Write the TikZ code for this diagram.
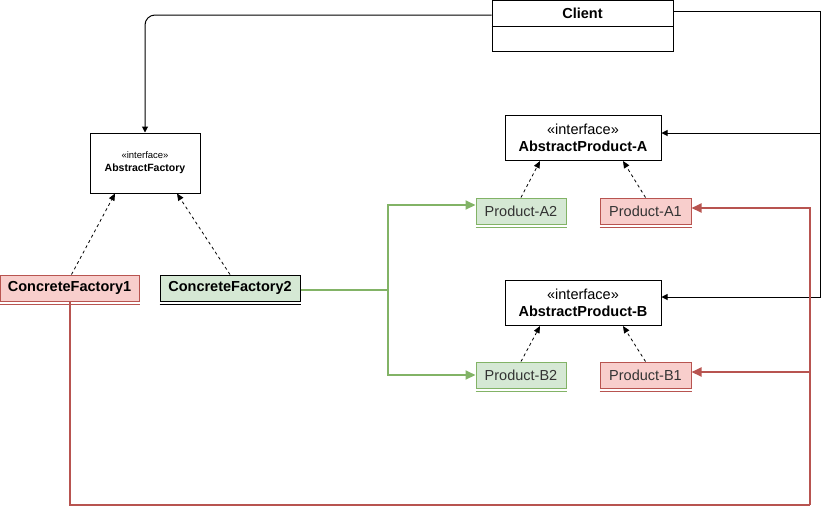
\documentclass[tikz,border=0pt]{standalone}
\usepackage{fontspec}
\setmainfont{Liberation Sans}
\usetikzlibrary{arrows.meta,calc}

\definecolor{gfill}{HTML}{D5E8D4}
\definecolor{gline}{HTML}{82B366}
\definecolor{rfill}{HTML}{F8CECC}
\definecolor{rline}{HTML}{B85450}
\definecolor{ptext}{HTML}{333333}

\tikzset{
  umlbox/.style={draw=black, line width=1pt, fill=white, inner sep=0pt, align=center},
  greenbox/.style={draw=gline, line width=1pt, fill=gfill, inner sep=0pt, text=ptext,
    minimum width=90pt, minimum height=26pt, font=\fontsize{14.5}{17}\selectfont},
  redbox/.style={draw=rline, line width=1pt, fill=rfill, inner sep=0pt, text=ptext,
    minimum width=91pt, minimum height=26pt, font=\fontsize{14.5}{17}\selectfont},
  conn/.style={draw=black, line width=1pt, -{Triangle[length=6pt,width=6pt]}},
  realize/.style={draw=black, line width=0.8pt, dash pattern=on 3pt off 3pt,
    -{Triangle[length=7pt,width=6pt]}},
  greenc/.style={draw=gline, line width=2pt},
  redc/.style={draw=rline, line width=2pt},
  garrow/.style={greenc, -{Triangle[length=10pt,width=9pt]}},
  rarrow/.style={redc, -{Triangle[length=10pt,width=9pt]}},
}

\begin{document}
\begin{tikzpicture}[x=1pt, y=-1pt]
\useasboundingbox (0,0) rectangle (829,515);

% Client class with an empty attribute compartment
\node[umlbox, minimum width=181pt, minimum height=51pt] (client) at (582.5,26) {};
\draw[line width=1pt] ($(client.north west)+(0,26)$) -- ($(client.north east)+(0,26)$);
\node[font=\bfseries\fontsize{14.5}{17}\selectfont] (clientname) at (582.5,13) {Client};

% Interfaces
\node[umlbox, minimum width=110pt, minimum height=60pt] (af) at (145,163)
  {{\fontsize{9.5}{11}\selectfont «interface»}\\[1pt]{\bfseries\fontsize{10.5}{12}\selectfont AbstractFactory}};
\node[umlbox, minimum width=156pt, minimum height=45pt, font=\fontsize{14.5}{17}\selectfont] (apa) at (583,138)
  {«interface»\\{\bfseries AbstractProduct-A}};
\node[umlbox, minimum width=156pt, minimum height=45pt, font=\fontsize{14.5}{17}\selectfont] (apb) at (583,303)
  {«interface»\\{\bfseries AbstractProduct-B}};

% Concrete factories
\node[redbox, minimum width=139pt, text=black, font=\bfseries\fontsize{14.5}{17}\selectfont] (cf1) at (69.5,288) {ConcreteFactory1};
\node[greenbox, draw=black, minimum width=140pt, text=black, font=\bfseries\fontsize{14.5}{17}\selectfont] (cf2) at (230,288) {ConcreteFactory2};
\draw[rline, line width=1pt] ([yshift=-3pt]cf1.south west) -- ([yshift=-3pt]cf1.south east);
\draw[black, line width=1pt] ([yshift=-3pt]cf2.south west) -- ([yshift=-3pt]cf2.south east);

% Concrete products
\node[greenbox] (pa2) at (521,211) {Product-A2};
\node[redbox]   (pa1) at (645.5,211) {Product-A1};
\node[greenbox] (pb2) at (521,375) {Product-B2};
\node[redbox]   (pb1) at (645.5,375) {Product-B1};
\foreach \n/\c in {pa2/gline, pa1/rline, pb2/gline, pb1/rline}
  \draw[\c, line width=1pt] ([yshift=-2.5pt]\n.south west) -- ([yshift=-2.5pt]\n.south east);

% Client uses the factory and the product interfaces
\coordinate (cl) at ($(client.north west)+(0,15)$);
\draw[conn, rounded corners=10pt] (cl) -| (af.north);
\coordinate (cr) at ($(client.north east)+(0,11)$);
\coordinate (bus) at (820,11);
\coordinate (apaIn) at ([yshift=5pt]apa.east);
\coordinate (apbIn) at ([yshift=6pt]apb.east);
\draw[conn] (cr) -- (bus) |- (apbIn);
\draw[conn] (bus |- apaIn) -- (apaIn);

% Realizations
\draw[realize] ([xshift=2pt]cf1.north) -- ([xshift=-30pt]af.south);
\draw[realize] (cf2.north) -- ([xshift=32pt]af.south);
\draw[realize] (pa2.north) -- ([xshift=-43pt]apa.south);
\draw[realize] (pa1.north) -- ([xshift=40pt]apa.south);
\draw[realize] (pb2.north) -- ([xshift=-43pt]apb.south);
\draw[realize] (pb1.north) -- ([xshift=40pt]apb.south);

% ConcreteFactory2 creates the "2" products
\coordinate (gx) at (388,290);
\coordinate (pa2In) at ([yshift=6pt]pa2.west);
\coordinate (pb2In) at ([yshift=0pt]pb2.west);
\draw[greenc] (cf2.east |- gx) -- (gx);
\draw[garrow] (gx) |- (pa2In);
\draw[garrow] (gx) |- (pb2In);

% ConcreteFactory1 creates the "1" products
\coordinate (rb) at (810,505);
\coordinate (pa1In) at ([yshift=3pt]pa1.east);
\coordinate (pb1In) at ([yshift=3pt]pb1.east);
\draw[redc] (cf1.south) |- (rb);
\draw[rarrow] (rb) |- (pa1In);
\draw[rarrow] (rb |- pb1In) -- (pb1In);
\end{tikzpicture}
\end{document}
